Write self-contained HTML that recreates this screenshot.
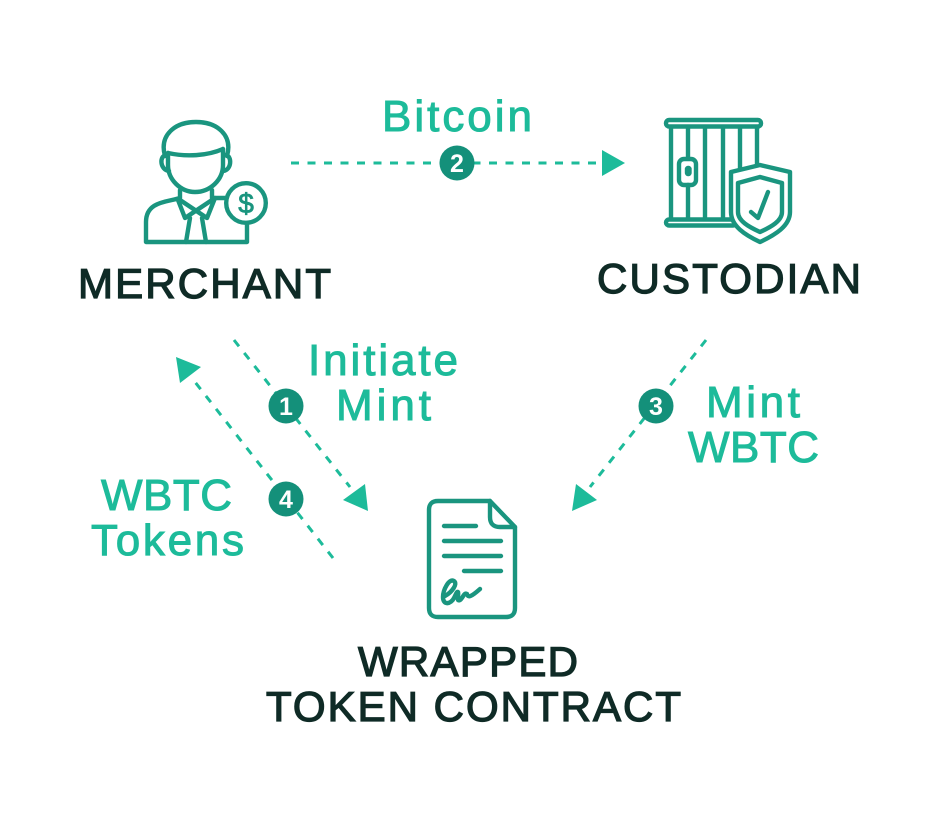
<!DOCTYPE html>
<html lang="en">
<head>
<meta charset="utf-8">
<title>Wrapped token mint flow</title>
<style>
html,body{margin:0;padding:0;background:#fff;width:940px;height:830px;overflow:hidden}
svg{display:block}
text{font-family:"Liberation Sans",sans-serif}
.dark{font-size:42px;fill:#0f2b26;stroke:#0f2b26;stroke-width:1.3px}
.teal{font-size:44px;fill:#1dbb9a;stroke:#1dbb9a;stroke-width:1px}
.num{font-size:25px;font-weight:bold;fill:#fff;text-anchor:middle}
.ic{fill:none;stroke:#1a957f;stroke-width:4.4;stroke-linecap:round;stroke-linejoin:round}
.dash{fill:none;stroke:#1dbb9a;stroke-width:3;stroke-dasharray:8 8.5}
.tri{fill:#1dbb9a}
.badge{fill:#14907a}
</style>
</head>
<body>
<svg width="940" height="830" viewBox="0 0 940 830" xmlns="http://www.w3.org/2000/svg">
<rect width="940" height="830" fill="#fff"/>

<!-- Connectors -->
<line class="dash" x1="291" y1="163" x2="600" y2="163"/>
<polygon class="tri" points="602,150 625,163 602,176"/>
<line class="dash" x1="234" y1="340" x2="350" y2="487"/>
<polygon class="tri" points="365,484 343,500 368,511"/>
<line class="dash" x1="333" y1="558" x2="195" y2="382"/>
<polygon class="tri" points="176,357 201,367 180,383"/>
<line class="dash" x1="706" y1="340" x2="590" y2="487"/>
<polygon class="tri" points="576,484 597,500 572,511"/>

<!-- Badges -->
<circle class="badge" cx="457" cy="163" r="17.5"/>
<text class="num" x="457" y="172">2</text>
<circle class="badge" cx="286" cy="406" r="17.5"/>
<text class="num" x="286" y="415">1</text>
<circle class="badge" cx="286" cy="499" r="17.5"/>
<text class="num" x="286" y="508">4</text>
<circle class="badge" cx="656" cy="406" r="17.5"/>
<text class="num" x="656" y="415">3</text>

<!-- Merchant icon -->
<g class="ic">
<path d="M165 156C159 135 175 122 196 122C217 122 233 135 227 156"/>
<path d="M168 153C186 157 207 156 223 149"/>
<path d="M168 153V165C168 180 181 192 195 192C210 192 223 180 223 165V149"/>
<path d="M166 155C159 156 160 170 169 171"/>
<path d="M226 155C232 156 232 170 223 171"/>
<path d="M180 190V198C168 202 146 201 146 222V242H247V225"/>
<path d="M212 190V198H226"/>
<path d="M178 200L185 218L212 200"/>
<path d="M215 198L207 218L180 200"/>
<path d="M190 218L186 242M202 218L206 242"/>
<circle cx="246" cy="203" r="19.8"/>
</g>
<text x="246" y="213" font-size="28" fill="#1a957f" stroke="#1a957f" stroke-width=".8" text-anchor="middle">$</text>

<!-- Custodian icon -->
<g class="ic">
<rect x="666" y="120" width="95" height="6.500" rx="3"/>
<path d="M671 127V218M688 127V158M688 185V218M705 127V218M723 127V218M740 127V170M757 127V167"/>
<rect x="666" y="219.500" width="70" height="6" rx="3"/>
<rect x="679" y="159" width="17" height="26" rx="5"/>
<rect x="687" y="168" width="2.500" height="6" rx="1"/>
<path d="M760 165L790 172V212C790 226 775 235 760 242C745 235 731 226 731 212V172Z" fill="#fff"/>
<path d="M760 177L782 183V212C782 221 771 227 760 232C749 227 738 221 738 212V183Z"/>
<path d="M751 212L758 218L768 192"/>
</g>

<!-- Contract icon -->
<g class="ic">
<path d="M490 501H438Q429 501 429 510V608Q429 617 438 617H506Q515 617 515 608V527Z"/>
<path d="M490 501V517Q490 527 500 527H515"/>
<path d="M444 526H476M444 541H501M444 556H501M464 571H501"/>
<path d="M445 596C452 592 458 584 454 581C449 578 443 590 443 597C443 606 451 604 454 598C456 594 457 591 458 592C459 595 456 602 460 600C463 598 464 592 467 594C468 598 471 597 480 589"/>
</g>

<!-- Labels -->
<text class="teal" x="382" y="131" textLength="150" lengthAdjust="spacing">Bitcoin</text>
<text class="dark" x="78" y="298" textLength="253" lengthAdjust="spacing">MERCHANT</text>
<text class="dark" x="597" y="293" textLength="264" lengthAdjust="spacing">CUSTODIAN</text>
<text class="teal" x="308" y="375" textLength="150" lengthAdjust="spacing">Initiate</text>
<text class="teal" x="336" y="420" textLength="95" lengthAdjust="spacing">Mint</text>
<text class="teal" x="706" y="417" textLength="94" lengthAdjust="spacing">Mint</text>
<text class="teal" x="688" y="462" textLength="131" lengthAdjust="spacing">WBTC</text>
<text class="teal" x="101" y="510" textLength="131" lengthAdjust="spacing">WBTC</text>
<text class="teal" x="91" y="555" textLength="153" lengthAdjust="spacing">Tokens</text>
<text class="dark" x="358" y="676" textLength="220" lengthAdjust="spacing">WRAPPED</text>
<text class="dark" x="266" y="721" textLength="415" lengthAdjust="spacing">TOKEN CONTRACT</text>
</svg>
</body>
</html>
